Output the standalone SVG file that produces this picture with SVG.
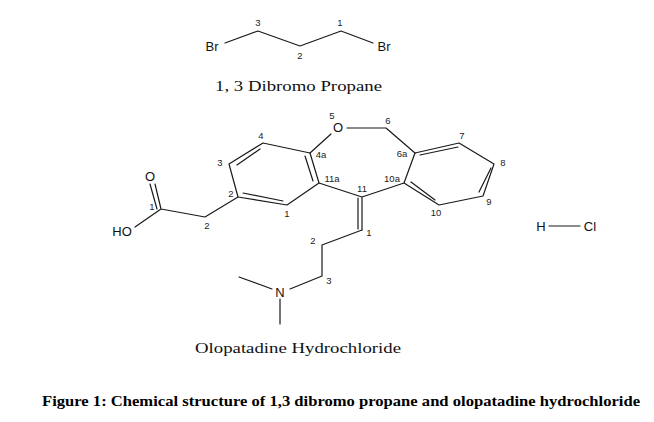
<svg xmlns="http://www.w3.org/2000/svg" width="654" height="422" viewBox="0 0 654 422">
<style>
.bond{fill:none;stroke:#1a1a1a;stroke-width:1.2;stroke-linejoin:round;stroke-linecap:round}
.atom{font-family:"Liberation Sans",Arial,sans-serif;font-size:13px;fill:#111;text-anchor:middle;dominant-baseline:central}
.num{font-family:"Liberation Sans",Arial,sans-serif;font-size:9.5px;fill:#222;text-anchor:middle;dominant-baseline:central}
.name{font-family:"Liberation Serif","Times New Roman",serif;font-size:14px;fill:#111}
.cap{font-family:"Liberation Serif","Times New Roman",serif;font-size:15px;font-weight:bold;fill:#000}
</style>
<rect width="654" height="422" fill="#fff"/>
<g id="connectors">
<path class="bond" d="M225 43L258 31L300 46L341 31L373 43"/>
<path class="bond" d="M238 197L229 164L263 143L310 153L319 183L287 205Z"/>
<path class="bond" d="M237 165L260 149M305 156L313 181M243 193L283 201"/>
<path class="bond" d="M155 184L161 209M150 184L157 209M161 209L205 217L238 197M161 209L135 227"/>
<path class="bond" d="M310 153L331 134M347 128H386L415 153"/>
<path class="bond" d="M415 153L459 143L494 164L483 196L439 205L404 183Z"/>
<path class="bond" d="M420 155L458 147M491 168L479 192M411 182L435 200"/>
<path class="bond" d="M404 183L362 197L319 183M362 197V230M358 198V229"/>
<path class="bond" d="M362 230L322 245V276L290 289M272 289L239 277M280 299V324"/>
<path class="bond" d="M549 226H580"/>
</g>
<g id="dibromopropane">
<text class="atom" x="212" y="46">Br</text>
<text class="atom" x="384" y="46">Br</text>
<text class="num" x="258" y="22">3</text>
<text class="num" x="300" y="55">2</text>
<text class="num" x="340" y="22">1</text>
<text class="name" x="215" y="91" textLength="167" lengthAdjust="spacingAndGlyphs">1, 3 Dibromo Propane</text>
</g>
<g id="olopatadine">
<text class="atom" x="150" y="176">O</text>
<text class="atom" x="122" y="231">HO</text>
<text class="atom" x="338" y="127">O</text>
<text class="atom" x="280" y="292">N</text>
<text class="num" x="152" y="206">1</text>
<text class="num" x="207" y="225">2</text>
<text class="num" x="231" y="193">2</text>
<text class="num" x="287" y="213">1</text>
<text class="num" x="220" y="162">3</text>
<text class="num" x="261" y="135">4</text>
<text class="num" x="321" y="154">4a</text>
<text class="num" x="332" y="178">11a</text>
<text class="num" x="332" y="115">5</text>
<text class="num" x="388" y="120">6</text>
<text class="num" x="402" y="153">6a</text>
<text class="num" x="462" y="135">7</text>
<text class="num" x="503" y="162">8</text>
<text class="num" x="489" y="201">9</text>
<text class="num" x="436" y="212">10</text>
<text class="num" x="392" y="178">10a</text>
<text class="num" x="362" y="188">11</text>
<text class="num" x="369" y="232">1</text>
<text class="num" x="313" y="240">2</text>
<text class="num" x="329" y="280">3</text>
<text class="name" x="195" y="353" textLength="206" lengthAdjust="spacingAndGlyphs">Olopatadine Hydrochloride</text>
</g>
<g id="hcl">
<text class="atom" x="541" y="226">H</text>
<text class="atom" x="590" y="226">Cl</text>
</g>
<text class="cap" x="42" y="406" textLength="598" lengthAdjust="spacingAndGlyphs">Figure 1: Chemical structure of 1,3 dibromo propane and olopatadine hydrochloride</text>
</svg>
